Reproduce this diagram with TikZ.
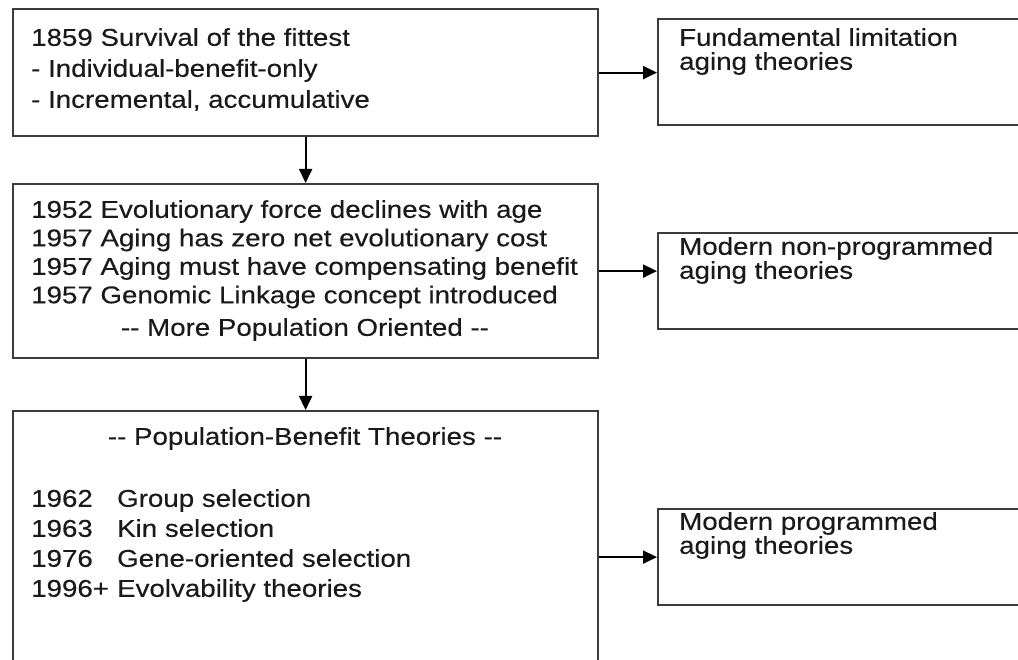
\documentclass[tikz,border=0pt]{standalone}
\usepackage{fontspec}
\setmainfont{Liberation Sans}[FakeStretch=1.14, FakeBold=0.3]
\usepackage{tikz}
\usetikzlibrary{arrows.meta,positioning}

\definecolor{boxgray}{HTML}{3C3C3C}
\definecolor{textgray}{HTML}{1A1A1A}
\newcommand{\dbldash}{-\kern0pt-}

\tikzset{
	box/.style={draw=boxgray, line width=2.2pt, anchor=north west, inner sep=0pt},
	txt/.style={anchor=north west, inner sep=0pt, align=left, text=textgray},
	link/.style={->, line width=2pt, >={Triangle[length=14pt,width=13pt]}},
}

\begin{document}
\begin{tikzpicture}[x=1pt, y=-1pt]
			\useasboundingbox (0,0) rectangle (1018,660);
			\clip (0,0) rectangle (1018,660);

			% 左侧三个框
			\node[box, minimum width=585pt, minimum height=127pt] (surv) at (12,8) {};
			\node[box, minimum width=585pt, minimum height=174pt] (neo) at (12,183) {};
			\node[box, minimum width=585pt, minimum height=300pt] (popben) at (12,410) {};

			% 右侧三个框
			\node[box, minimum width=400pt, minimum height=106pt] (fundlim) at (657,18) {};
			\node[box, minimum width=400pt, minimum height=96pt] (nonprog) at (657,232) {};
			\node[box, minimum width=400pt, minimum height=96pt] (prog) at (657,508) {};

			% 左侧文字
			\node[txt, font=\fontsize{24.3}{31}\selectfont] (survtxt) at (31,28)
				{1859 Survival of the fittest\\- Individual-benefit-only\\- Incremental, accumulative};
			\node[txt, font=\fontsize{24.3}{28.5}\selectfont] (neotxt) at (31,200)
				{1952 Evolutionary force declines with age\\1957 Aging has zero net evolutionary cost\\1957 Aging must have compensating benefit\\1957 Genomic Linkage concept introduced};
			\node[txt, anchor=north, font=\fontsize{24.3}{28.5}\selectfont] (neonote) at (305,318)
				{\dbldash{} More Population Oriented \dbldash};
			\node[txt, anchor=north, font=\fontsize{24.3}{30}\selectfont] (pophead) at (305,427)
				{\dbldash{} Population-Benefit Theories \dbldash};
			\node[txt, font=\fontsize{24.3}{30}\selectfont] (poptxt) at (31,489)
				{\makebox[86pt][l]{1962}Group selection\\\makebox[86pt][l]{1963}Kin selection\\\makebox[86pt][l]{1976}Gene-oriented selection\\\makebox[86pt][l]{1996+}Evolvability theories};

			% 右侧文字
			\node[txt, font=\fontsize{24.3}{24}\selectfont] (fundtxt) at (679,28)
				{Fundamental limitation\\aging theories};
			\node[txt, font=\fontsize{24.3}{24}\selectfont] (nonprogtxt) at (679,237)
				{Modern non-programmed\\aging theories};
			\node[txt, font=\fontsize{24.3}{24}\selectfont] (progtxt) at (679,512)
				{Modern programmed\\aging theories};

			% 箭头
			\draw[link] (surv.south) -- (neo.north);
			\draw[link] (neo.south) -- (popben.north);
			\draw[link] (surv.east) -- (surv.east -| fundlim.west);
			\draw[link] (neo.east) -- (neo.east -| nonprog.west);
			\draw[link] (popben.east |- prog.west) -- (prog.west);
		\end{tikzpicture}
\end{document}
